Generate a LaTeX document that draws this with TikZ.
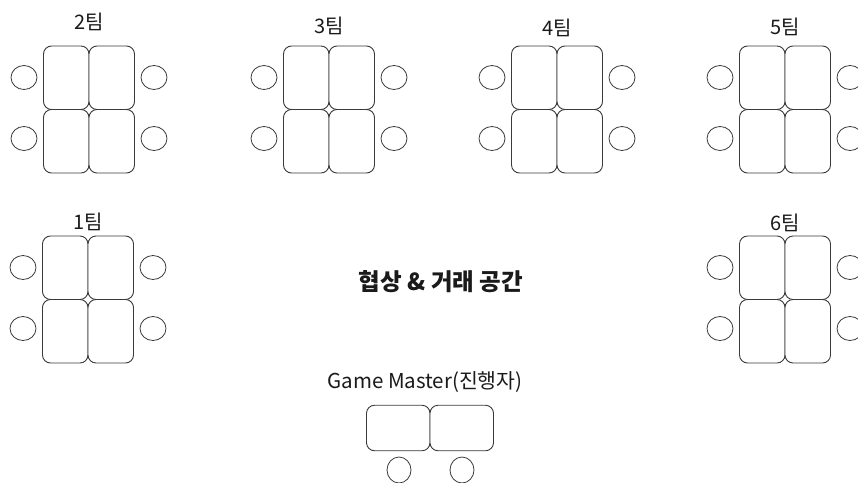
\documentclass[tikz,border=0pt]{standalone}
\usepackage{fontspec}
\setmainfont{Noto Sans CJK KR}
\usetikzlibrary{positioning, shapes.geometric}
\definecolor{lineGrey}{HTML}{3A3A3A}
\definecolor{textDark}{HTML}{1A1A1A}

\begin{document}
\begin{tikzpicture}[x=1pt, y=-1pt,
      desk/.style={rectangle, rounded corners=8pt, draw=lineGrey, line width=0.9pt, fill=white, minimum width=45.5pt, minimum height=63.5pt, inner sep=0pt},
      gmdesk/.style={desk, minimum width=63.5pt, minimum height=45.5pt},
      chair/.style={ellipse, draw=lineGrey, line width=0.8pt, minimum width=26pt, minimum height=24pt, inner sep=0pt},
      gmchair/.style={chair, minimum width=24pt, minimum height=26pt},
      teamlabel/.style={font=\fontsize{20}{22}\selectfont, text=textDark, inner sep=0pt},
      title/.style={font=\fontsize{23.5}{26}\selectfont\bfseries, text=textDark, inner sep=0pt},
    ]
    \useasboundingbox (0,0) rectangle (858,482);

    \foreach \n/\cx/\cy/\ly in {2/89/109.5/22, 3/329/109.5/26, 4/557/109.5/28, 5/785/109.5/27, 1/88/299.5/222, 6/785/299.5/223}{
      \node[desk] (t\n-a) at (\cx-22.75,\cy-31.75) {};
      \node[desk] (t\n-b) at (\cx+22.75,\cy-31.75) {};
      \node[desk] (t\n-c) at (\cx-22.75,\cy+31.75) {};
      \node[desk] (t\n-d) at (\cx+22.75,\cy+31.75) {};
      \node[chair] (c\n-a) at (\cx-65,\cy-32) {};
      \node[chair] (c\n-b) at (\cx+65,\cy-32) {};
      \node[chair] (c\n-c) at (\cx-65,\cy+29) {};
      \node[chair] (c\n-d) at (\cx+65,\cy+29) {};
      \node[teamlabel] (lab\n) at (\cx,\ly) {\n 팀};
    }

    \node[title] (space) at (441,282) {협상 \& 거래 공간};

    \node[teamlabel, font=\fontsize{20.5}{23}\selectfont] (gmlabel) at (425,382) {Game Master(진행자)};
    \node[gmdesk] (gm-a) at (398.25,428) {};
    \node[gmdesk] (gm-b) at (461.75,428) {};
    \node[gmchair] (gmc-a) at (399,470) {};
    \node[gmchair] (gmc-b) at (462,470) {};
  \end{tikzpicture}
\end{document}
